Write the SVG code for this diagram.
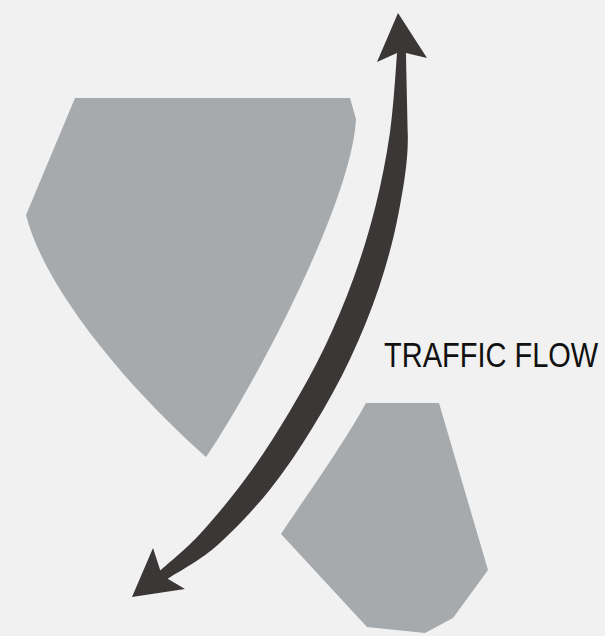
<svg xmlns="http://www.w3.org/2000/svg" width="605" height="636" viewBox="0 0 605 636">
<style>
.block{fill:#a7aaad;stroke:none}
.flow{fill:#3a3736;stroke:none}
.label{font-family:"Liberation Sans",Arial,sans-serif;font-size:29px;fill:#111}
</style>
<rect width="605" height="636" fill="#f1f1f1"/>
<g id="block-upper">
<path class="block" d="M75,98 L350,98 L356,119 C352,200 258,380 206,457 C130,390 45,290 26,215 Z"/>
</g>
<g id="block-lower">
<path class="block" d="M366,403 L439,403 L488,570 L453,618 L425,633 L367,627 L281,534 C300,505 340,450 366,403 Z"/>
</g>
<g id="connectors">
<path class="flow" d="M398,13 L427,58 L406,53 C406.2,70.5 407.3,109 407.8,134.7 C408.3,160.4 403.6,186.35 398.85,211.7 C394.1,237.05 387.3,262.3 379.2,286.8 C371.07,311.33 361.1,335.5 350.05,358.9 C339,382.3 326.4,405.1 312.9,427.1 C299.4,449.1 285.1,470.9 268.8,490.9 C252.5,510.9 232.2,532.4 215.3,547 C198.45,561.6 175.6,573.4 167.7,578.7 L185,589 L132,597 L153,548 L160.3,570.6 C167,564.4 186.05,549.2 200.65,533.3 C215.25,517.4 233.3,495.4 248,475.3 C262.7,455.2 276.1,434.1 288.9,412.7 C301.7,391.3 313.9,369.45 324.7,347 C335.5,324.55 345.13,301.45 353.6,278 C362.07,254.55 369.44,230.55 375.5,206.3 C381.56,182.05 386.4,157.3 389.96,132.5 C393.5,107.7 395.74,70.1 397,53 L377,62 Z"/>
</g>
<g id="label-traffic-flow">
<text class="label" transform="translate(384,367) scale(1,1.19)" x="0" y="0">TRAFFIC FLOW</text>
</g>
</svg>
